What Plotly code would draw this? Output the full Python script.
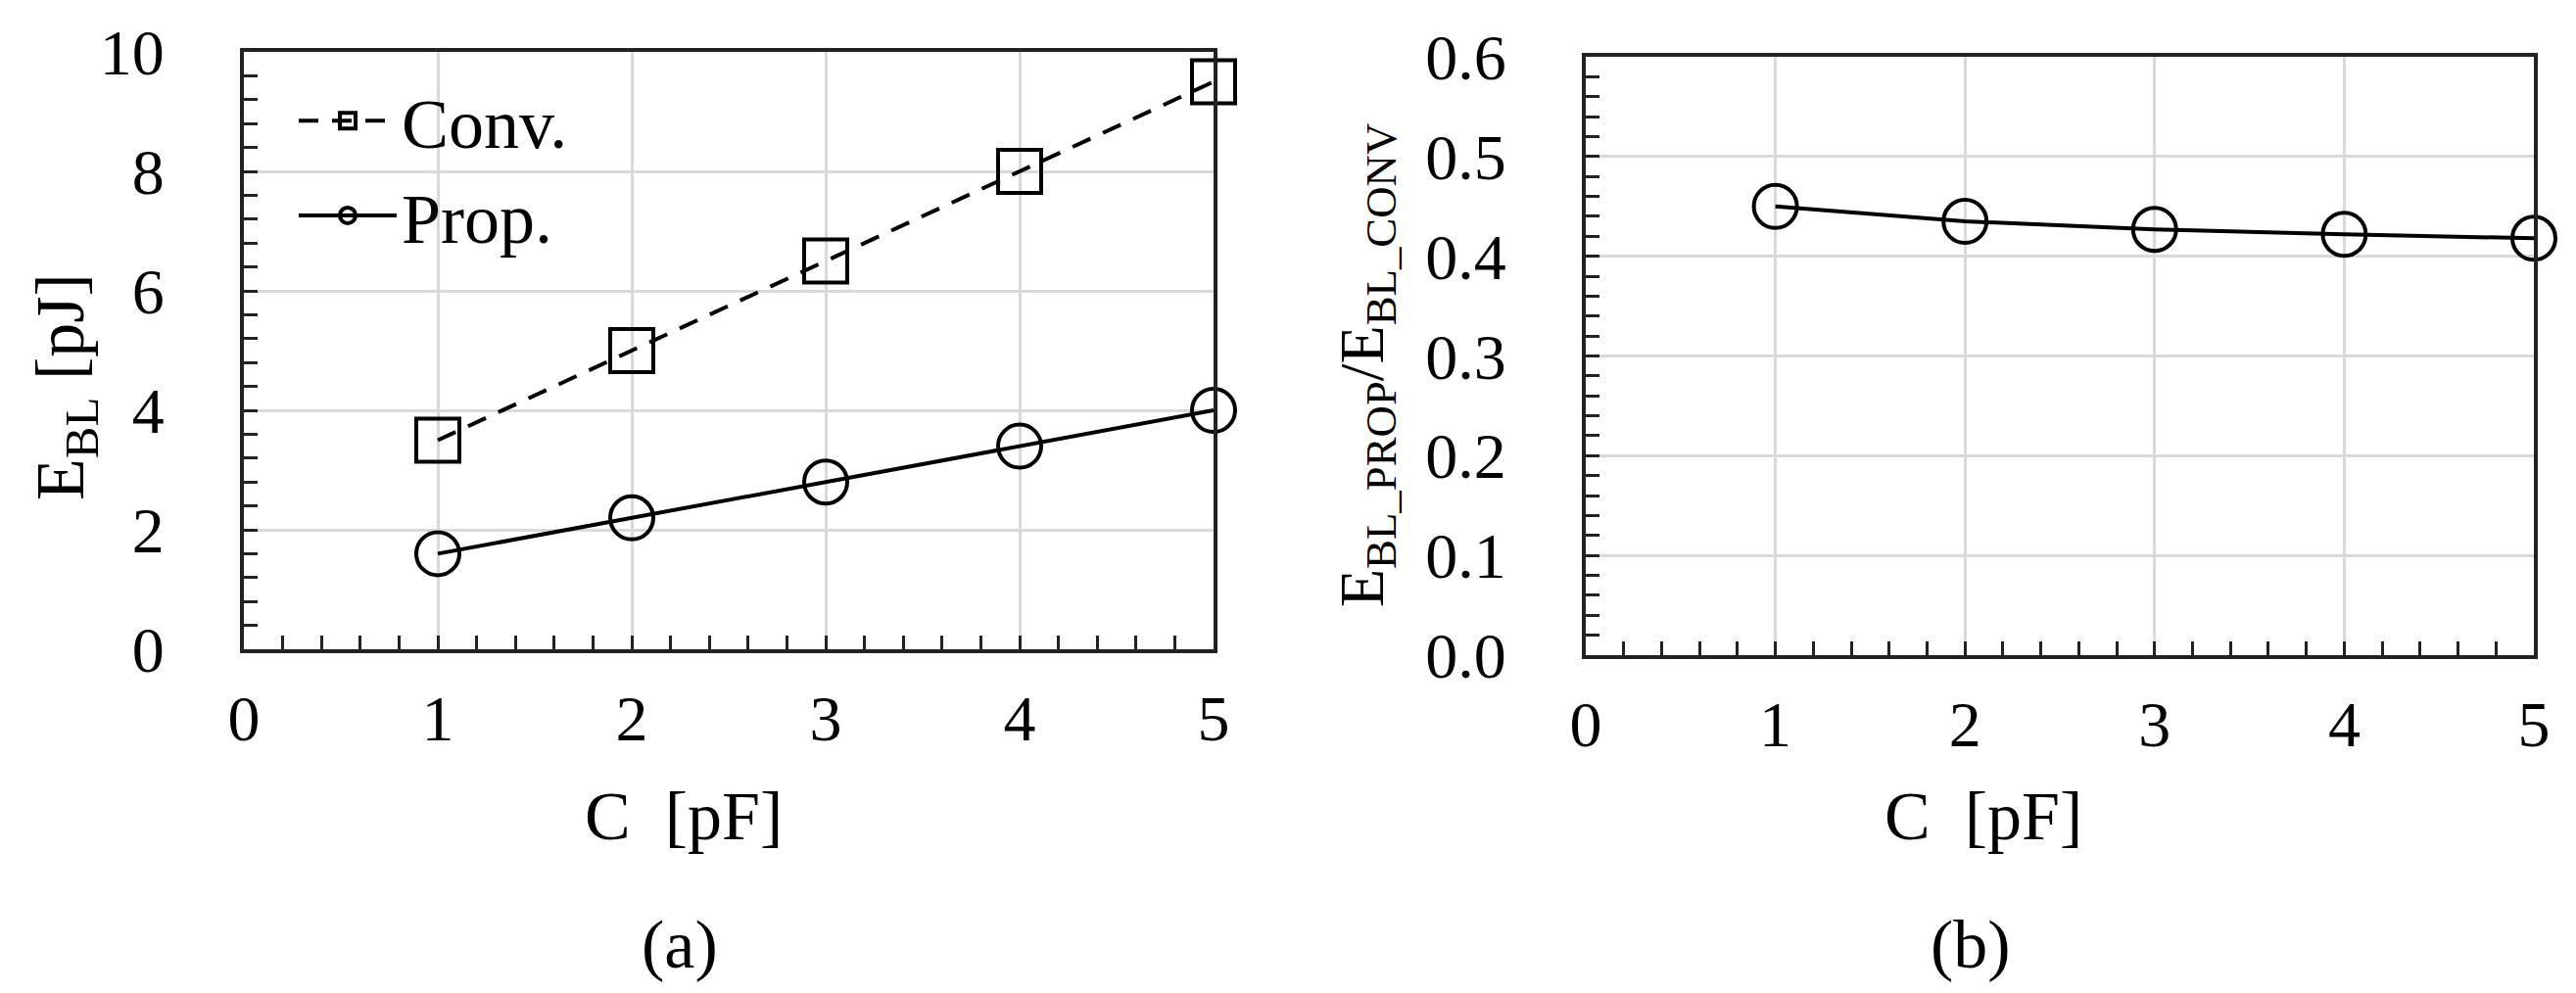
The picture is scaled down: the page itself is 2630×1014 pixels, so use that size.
import plotly.graph_objects as go
from plotly.subplots import make_subplots

# Data
cap_pf = [1, 2, 3, 4, 5]
e_conv = [3.5, 5.0, 6.5, 8.0, 9.5]
e_prop = [1.6, 2.2, 2.8, 3.4, 4.0]
ratio = [0.45, 0.435, 0.427, 0.422, 0.418]

FONT = "Liberation Serif, Times New Roman, serif"
OFF = 8                     # page body margin
W, H = 2630 - 2 * OFF, 1014 - 2 * OFF


def px(x):
    return (x - OFF) / W


def py(y):
    return 1 - (y - OFF) / H


fig = make_subplots(rows=1, cols=2)

fig.add_trace(go.Scatter(
    x=cap_pf, y=e_conv, name="Conv.", mode="lines+markers",
    line=dict(color="black", width=4, dash="20px,14px"),
    marker=dict(symbol="square-open", size=44, color="black", line=dict(width=4)),
    cliponaxis=False), row=1, col=1)
fig.add_trace(go.Scatter(
    x=cap_pf, y=e_prop, name="Prop.", mode="lines+markers",
    line=dict(color="black", width=4),
    marker=dict(symbol="circle-open", size=44, color="black", line=dict(width=4)),
    cliponaxis=False), row=1, col=1)
fig.add_trace(go.Scatter(
    x=cap_pf, y=ratio, name="ratio", mode="lines+markers", showlegend=False,
    line=dict(color="black", width=4),
    marker=dict(symbol="circle-open", size=44, color="black", line=dict(width=4)),
    cliponaxis=False), row=1, col=2)

axis_common = dict(
    showline=True, linecolor="#222", linewidth=4, mirror=True,
    showgrid=True, gridcolor="#d9d9d9", gridwidth=3,
    ticks="inside", ticklen=14, tickwidth=3, tickcolor="#222",
    tickfont=dict(family=FONT, size=66, color="black"),
    zeroline=False, automargin=False,
)

fig.update_xaxes(**axis_common, range=[0, 5], dtick=1, ticklabelstandoff=10,
                 minor=dict(dtick=0.2, ticks="inside", ticklen=14, tickwidth=3,
                            tickcolor="#222", showgrid=False))
fig.update_yaxes(**axis_common, ticklabelstandoff=64)

fig.update_xaxes(domain=[px(249), px(1239)], row=1, col=1)
fig.update_xaxes(domain=[px(1619), px(2587)], row=1, col=2)
fig.update_yaxes(domain=[py(663), py(53)], range=[0, 10], dtick=2,
                 minor=dict(dtick=0.4, ticks="inside", ticklen=14, tickwidth=3,
                            tickcolor="#222", showgrid=False), row=1, col=1)
fig.update_yaxes(domain=[py(669), py(58)], range=[0, 0.6], dtick=0.1,
                 tickformat=".1f",
                 minor=dict(dtick=0.02, ticks="inside", ticklen=14, tickwidth=3,
                            tickcolor="#222", showgrid=False), row=1, col=2)

txt = dict(xref="paper", yref="paper", showarrow=False,
           xanchor="center", yanchor="middle",
           font=dict(family=FONT, size=70, color="black"))
fig.add_annotation(text="C\u00a0\u00a0[pF]", x=px(698), y=py(833), **txt)
fig.add_annotation(text="C\u00a0\u00a0[pF]", x=px(2025), y=py(833), **txt)
fig.add_annotation(text="(a)", x=px(694), y=py(964), **txt)
fig.add_annotation(text="(b)", x=px(2012), y=py(964), **txt)
fig.add_annotation(text="E<sub>BL</sub> [pJ]", x=px(67), y=py(395),
                   textangle=-90, **txt)
txt_r = dict(txt, font=dict(family=FONT, size=64, color="black"))
fig.add_annotation(text="E<sub>BL_PROP</sub>/E<sub>BL_CONV</sub>", x=px(1395),
                   y=py(373), textangle=-90, **txt_r)

fig.update_layout(
    width=W, height=H,
    margin=dict(l=0, r=0, t=0, b=0),
    paper_bgcolor="white", plot_bgcolor="white",
    font=dict(family=FONT, size=66, color="black"),
    legend=dict(x=px(300), y=py(70), xanchor="left", yanchor="top",
                bgcolor="rgba(0,0,0,0)", itemwidth=100, itemsizing="trace",
                font=dict(family=FONT, size=72, color="black")),
)

fig.write_html("out.html")
